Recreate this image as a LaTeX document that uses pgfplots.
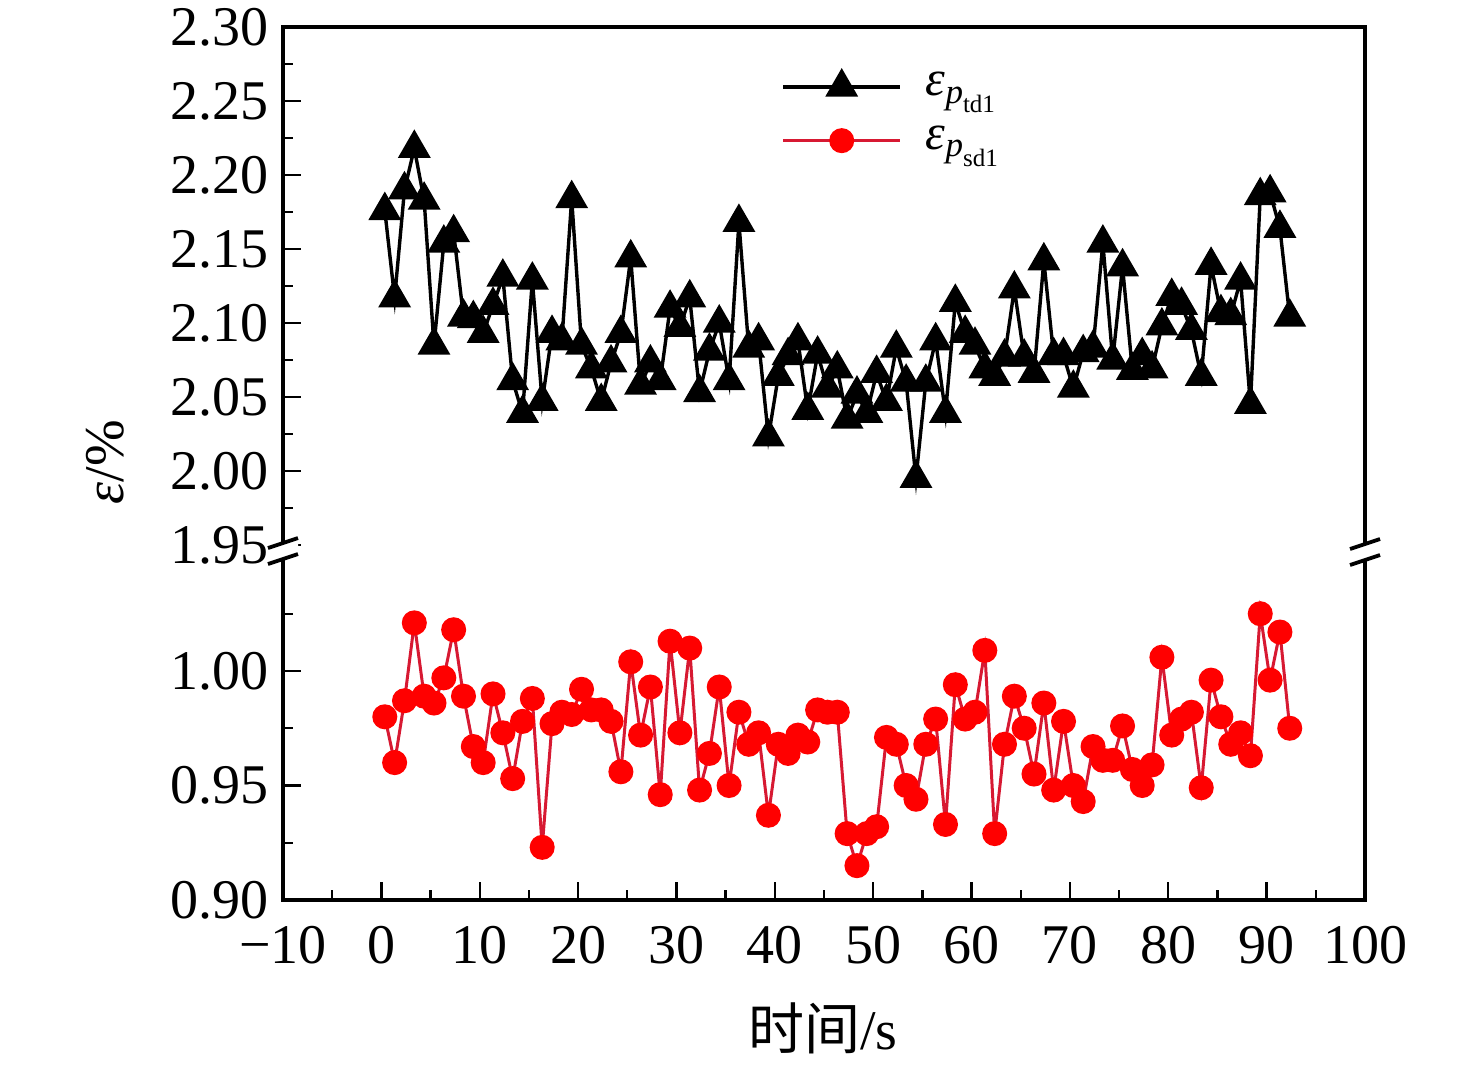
\documentclass[border=0pt]{standalone}
\usepackage{fontspec}
\setmainfont{Liberation Serif}
\newfontfamily\cjk{Noto Sans CJK SC}
\usepackage{amsmath}
\usepackage{pgfplots}
\usepackage{pgfplotstable}
\pgfplotsset{compat=1.18}
\definecolor{redline}{RGB}{215,25,50}
\pgfplotstableread{
x t s
0.35 2.176 0.980
1.35 2.117 0.960
2.35 2.190 0.987
3.35 2.218 1.021
4.35 2.183 0.989
5.35 2.085 0.986
6.35 2.154 0.997
7.35 2.161 1.018
8.35 2.104 0.989
9.35 2.103 0.967
10.35 2.093 0.960
11.35 2.112 0.990
12.35 2.131 0.973
13.35 2.061 0.953
14.35 2.039 0.978
15.35 2.129 0.988
16.35 2.047 0.923
17.35 2.093 0.977
18.35 2.088 0.982
19.35 2.184 0.981
20.35 2.085 0.992
21.35 2.069 0.983
22.35 2.047 0.983
23.35 2.073 0.978
24.35 2.093 0.956
25.35 2.144 1.004
26.35 2.058 0.972
27.35 2.073 0.993
28.35 2.061 0.946
29.35 2.110 1.013
30.35 2.097 0.973
31.35 2.117 1.010
32.35 2.053 0.948
33.35 2.081 0.964
34.35 2.100 0.993
35.35 2.061 0.950
36.35 2.168 0.982
37.35 2.083 0.968
38.35 2.088 0.973
39.35 2.023 0.937
40.35 2.064 0.968
41.35 2.078 0.964
42.35 2.088 0.972
43.35 2.041 0.969
44.35 2.079 0.983
45.35 2.056 0.982
46.35 2.069 0.982
47.35 2.035 0.929
48.35 2.052 0.915
49.35 2.039 0.929
50.35 2.066 0.932
51.35 2.047 0.971
52.35 2.083 0.968
53.35 2.060 0.950
54.35 1.995 0.944
55.35 2.060 0.968
56.35 2.088 0.979
57.35 2.039 0.933
58.35 2.114 0.994
59.35 2.093 0.979
60.35 2.085 0.982
61.35 2.069 1.009
62.35 2.064 0.929
63.35 2.077 0.968
64.35 2.123 0.989
65.35 2.077 0.975
66.35 2.066 0.955
67.35 2.142 0.986
68.35 2.078 0.948
69.35 2.078 0.978
70.35 2.056 0.950
71.35 2.080 0.943
72.35 2.083 0.967
73.35 2.154 0.961
74.35 2.075 0.961
75.35 2.138 0.976
76.35 2.068 0.957
77.35 2.078 0.950
78.35 2.069 0.959
79.35 2.098 1.006
80.35 2.118 0.972
81.35 2.112 0.979
82.35 2.095 0.982
83.35 2.064 0.949
84.35 2.139 0.996
85.35 2.107 0.980
86.35 2.105 0.968
87.35 2.129 0.973
88.35 2.045 0.963
89.35 2.186 1.025
90.35 2.188 0.996
91.35 2.164 1.017
92.35 2.104 0.975
}\data

\begin{document}
\begin{tikzpicture}
\pgfplotsset{
 common/.style={
  scale only axis, width=270.5pt,
  xmin=-10, xmax=100,
  axis line style={draw=none},
  tick align=inside,
  ytick pos=left, xtick pos=bottom,
  major tick length=4.5pt, minor tick length=2.5pt,
  tick style={black, line width=0.6pt},
  tick label style={font=\fontsize{14pt}{16pt}\selectfont},
  clip=false,
 },
 tser/.style={black, line width=0.85pt, mark=triangle*, mark size=3.9pt, mark options={solid, fill=black}},
 sser/.style={redline, line width=0.75pt, mark=*, mark size=2.75pt, mark options={solid, fill=red, draw=red}},
}
\begin{axis}[common, at={(0pt,0pt)}, anchor=south west, height=88.75pt,
  ymin=0.90, ymax=1.055,
  ytick={0.90,0.95,1.00}, yticklabels={0.90,0.95,1.00},
  minor ytick={0.925,0.975,1.025},
  xtick={-10,0,10,20,30,40,50,60,70,80,90,100},
  xticklabels={−10,0,10,20,30,40,50,60,70,80,90,100},
  minor xtick={-5,5,15,25,35,45,55,65,75,85,95},
  xticklabel style={yshift=-3pt},
]
\addplot[sser] table[x=x,y=s]{\data};
\end{axis}
\begin{axis}[common, at={(0pt,88.75pt)}, anchor=south west, height=129.5pt,
  ymin=1.95, ymax=2.30,
  ytick={1.95,2.00,2.05,2.10,2.15,2.20,2.25,2.30},
  yticklabels={1.95,2.00,2.05,2.10,2.15,2.20,2.25,2.30},
  minor ytick={1.975,2.025,2.075,2.125,2.175,2.225,2.275},
  xtick=\empty,
  legend cell align=left,
  legend image code/.code={\draw[mark repeat=2,mark phase=2] plot coordinates {(0pt,0pt) (14.6pt,0pt) (29.2pt,0pt)};},
  legend style={at={(0.449,0.945)}, anchor=north west, draw=none, fill=none,
    font=\fontsize{12.5pt}{14pt}\selectfont, row sep=2pt,
    /tikz/every odd column/.append style={column sep=4pt}},
]
\addplot[tser] table[x=x,y=t]{\data};
\addlegendentry{$\text{\itshape ε}_{\text{\itshape p}_{\text{td1}}}$}
\addlegendimage{sser}
\addlegendentry{$\text{\itshape ε}_{\text{\itshape p}_{\text{sd1}}}$}
\end{axis}
\draw[line width=0.85pt] (0pt,0pt) rectangle (270.5pt,218.25pt);
\foreach \cx/\cy in {0pt/87.25pt, 270.5pt/87pt} {
 \begin{scope}[shift={(\cx,\cy)}]
 \fill[white] (-3.75pt,0.75pt) -- (3.75pt,3.25pt) -- (3.75pt,-0.75pt) -- (-3.75pt,-3.25pt) -- cycle;
 \draw[line width=0.95pt] (-3.75pt,0.75pt) -- (3.75pt,3.25pt);
 \draw[line width=0.95pt] (-3.75pt,-3.25pt) -- (3.75pt,-0.75pt);
 \end{scope}
}
\node[rotate=90, font=\fontsize{14pt}{16pt}\selectfont] at (-44.5pt,109.5pt) {\itshape ε\upshape/\%};
\node[font=\fontsize{14pt}{16pt}\selectfont] at (135pt,-32pt) {{\cjk 时间}/s};
\pgfresetboundingbox
\path (-70.75pt,-41.25pt) rectangle (298.25pt,225pt);
\end{tikzpicture}
\end{document}
